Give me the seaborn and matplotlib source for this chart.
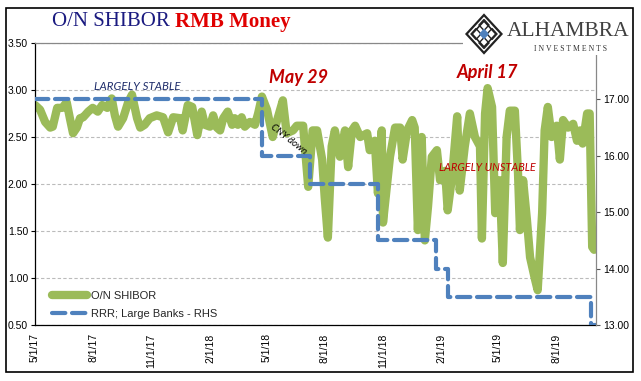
import pandas as pd
import matplotlib
matplotlib.use("Agg")
import matplotlib.pyplot as plt
from matplotlib.patches import Rectangle, Polygon
import seaborn as sns

# O/N SHIBOR (%)
shibor_dates = [
    "2017-05-01", "2017-05-09", "2017-05-17", "2017-05-25", "2017-05-29", "2017-06-05",
    "2017-06-13", "2017-06-20", "2017-06-25", "2017-06-30", "2017-07-06", "2017-07-11",
    "2017-07-16", "2017-07-24", "2017-07-31", "2017-08-08", "2017-08-15", "2017-08-23",
    "2017-08-30", "2017-09-04", "2017-09-09", "2017-09-17", "2017-09-25", "2017-10-01",
    "2017-10-09", "2017-10-14", "2017-10-21", "2017-10-29", "2017-11-09", "2017-11-19",
    "2017-11-27", "2017-12-05", "2017-12-16", "2017-12-20", "2017-12-28", "2018-01-04",
    "2018-01-12", "2018-01-19", "2018-01-24", "2018-02-01", "2018-02-06", "2018-02-12",
    "2018-02-17", "2018-02-22", "2018-03-01", "2018-03-08", "2018-03-12", "2018-03-17",
    "2018-03-23", "2018-03-28", "2018-04-05", "2018-04-13", "2018-04-18", "2018-04-24",
    "2018-05-02", "2018-05-11", "2018-05-18", "2018-05-27", "2018-06-02", "2018-06-12",
    "2018-06-18", "2018-06-28", "2018-07-06", "2018-07-13", "2018-07-20", "2018-07-28",
    "2018-08-01", "2018-08-06", "2018-08-12", "2018-08-17", "2018-08-25", "2018-09-02",
    "2018-09-07", "2018-09-13", "2018-09-18", "2018-09-26", "2018-10-07", "2018-10-11",
    "2018-10-19", "2018-10-24", "2018-10-30", "2018-11-01", "2018-11-07", "2018-11-12",
    "2018-11-20", "2018-11-28", "2018-12-02", "2018-12-09", "2018-12-17", "2018-12-21",
    "2018-12-26", "2019-01-01", "2019-01-06", "2019-01-11", "2019-01-17", "2019-01-25",
    "2019-01-30", "2019-02-02", "2019-02-07", "2019-02-11", "2019-02-18", "2019-02-26",
    "2019-03-02", "2019-03-10", "2019-03-18", "2019-03-26", "2019-04-03", "2019-04-06",
    "2019-04-11", "2019-04-15", "2019-04-22", "2019-04-27", "2019-05-04", "2019-05-09",
    "2019-05-15", "2019-05-20", "2019-05-28", "2019-06-02", "2019-06-05", "2019-06-10",
    "2019-06-16", "2019-06-21", "2019-06-29", "2019-07-03", "2019-07-10", "2019-07-14",
    "2019-07-19", "2019-07-25", "2019-08-02", "2019-08-07", "2019-08-12", "2019-08-20",
    "2019-08-28", "2019-09-03", "2019-09-08", "2019-09-12", "2019-09-19", "2019-09-23",
    "2019-09-27", "2019-09-30",
]
shibor_vals = [
    2.84, 2.79, 2.66, 2.60, 2.61, 2.81,
    2.81, 2.87, 2.70, 2.54, 2.60, 2.70,
    2.71, 2.77, 2.81, 2.77, 2.84, 2.81,
    2.91, 2.73, 2.61, 2.70, 2.87, 2.95,
    2.70, 2.60, 2.63, 2.70, 2.73, 2.71,
    2.55, 2.71, 2.70, 2.57, 2.84, 2.82,
    2.52, 2.77, 2.63, 2.61, 2.73, 2.60,
    2.57, 2.70, 2.77, 2.63, 2.70, 2.63,
    2.71, 2.61, 2.66, 2.63, 2.75, 2.93,
    2.79, 2.50, 2.68, 2.89, 2.54, 2.57,
    2.62, 2.62, 1.97, 2.57, 2.57, 2.26,
    1.86, 1.43, 2.40, 2.57, 2.29, 2.57,
    2.18, 2.57, 2.62, 2.50, 2.54, 2.36,
    2.46, 1.90, 2.57, 1.59, 1.97, 2.29,
    2.60, 2.60, 2.26, 2.57, 2.68, 2.60,
    1.51, 2.50, 1.40, 1.76, 2.29, 2.36,
    2.04, 2.10, 2.14, 1.72, 2.08, 2.72,
    1.93, 2.40, 2.75, 2.50, 2.40, 1.42,
    2.75, 3.02, 2.82, 1.69, 2.04, 1.16,
    2.50, 2.78, 2.78, 2.11, 1.51, 2.04,
    1.62, 1.22, 0.98, 0.87, 1.69, 2.57,
    2.82, 2.50, 2.62, 2.26, 2.68, 2.60,
    2.64, 2.46, 2.57, 2.43, 2.75, 2.75,
    1.33, 1.30,
]

# RRR for large banks (%), right-hand scale
rrr_dates = ["2017-05-01", "2018-04-24", "2018-07-09", "2018-10-24",
             "2019-01-23", "2019-02-11", "2019-09-25", "2019-10-03"]
rrr_vals = [17.0, 16.0, 15.5, 14.5, 14.0, 13.5, 13.0, 13.0]

left_ticks = [0.5, 1.0, 1.5, 2.0, 2.5, 3.0, 3.5]
right_ticks = [13, 14, 15, 16, 17]
x_ticks = ["2017-05-01", "2017-08-01", "2017-11-01", "2018-02-01", "2018-05-01",
           "2018-08-01", "2018-11-01", "2019-02-01", "2019-05-01", "2019-08-01"]

df_shibor = pd.DataFrame({"date": pd.to_datetime(shibor_dates), "rate": shibor_vals})
df_rrr = pd.DataFrame({"date": pd.to_datetime(rrr_dates), "rrr": rrr_vals})

sns.set_style("white")
plt.rcParams["font.family"] = ["Liberation Sans Narrow", "Liberation Sans", "DejaVu Sans"]

W, H = 641, 381
fig = plt.figure(figsize=(W / 100, H / 100), dpi=100)
fig.subplots_adjust(left=35 / W, right=596 / W, top=1 - 43 / H, bottom=1 - 325 / H)
ax = fig.add_subplot(111)
ax2 = ax.twinx()

green = "#9BBB59"
blue = "#4F81BD"

sns.lineplot(data=df_shibor, x="date", y="rate", ax=ax, color=green, linewidth=6,
             label="O/N SHIBOR", legend=False, solid_joinstyle="round", solid_capstyle="round")
sns.lineplot(data=df_rrr, x="date", y="rrr", ax=ax2, color=blue, linewidth=3,
             label="RRR; Large Banks - RHS", legend=False, drawstyle="steps-post")
rrr_line = ax2.lines[0]
rrr_line.set_linestyle((0, (3.2, 1.6)))
rrr_line.set_dash_capstyle("round")

ax.set_xlim(pd.Timestamp("2017-05-01"), pd.Timestamp("2019-10-03"))
ax.set_ylim(0.5, 3.5)
ax2.set_ylim(13, 18)
ax.set_yticks(left_ticks)
ax.set_yticklabels([f"{v:.2f}" for v in left_ticks])
ax2.set_yticks(right_ticks)
ax2.set_yticklabels([f"{v:.2f}" for v in right_ticks])
ax.set_xticks(pd.to_datetime(x_ticks))
ax.set_xticklabels([f"{d.month}/{d.day}/{d.strftime('%y')}" for d in pd.to_datetime(x_ticks)],
                   rotation=90, va="top")
ax.set_xlabel("")
ax.set_ylabel("")
ax2.set_ylabel("")

for a in (ax, ax2):
    a.tick_params(length=3, width=0.8, pad=2, labelsize=7.5, colors="black", direction="out")
ax.tick_params(axis="x", labelsize=7.5, pad=3)
ax2.tick_params(axis="y", colors="#555555", labelcolor="black")

ax.yaxis.grid(True, linestyle=(0, (3, 2)), color="#BBBBBB", linewidth=0.8)
ax.xaxis.grid(False)
ax.set_axisbelow(True)
ax.spines["left"].set_color("black")
ax.spines["bottom"].set_color("black")
ax.spines["top"].set_color("#888888")
for s in ("left", "bottom", "top", "right"):
    ax.spines[s].set_linewidth(0.9)
    ax2.spines[s].set_linewidth(0.9)
ax2.spines["right"].set_color("#888888")
ax2.spines["top"].set_visible(False)
ax2.spines["left"].set_visible(False)
ax2.spines["bottom"].set_visible(False)
ax.spines["right"].set_visible(False)

# annotations
note_font = ["Lato", "DejaVu Sans"]
ax.text(pd.Timestamp("2017-10-10"), 3.04, "LARGELY STABLE", color="#1F2D6B", style="italic",
        fontsize=8.3, ha="center", va="center", family=note_font)
ax.text(pd.Timestamp("2018-06-20"), 3.13, "May 29", color="#C00000", style="italic",
        weight="bold", fontsize=13, ha="center", va="center", family=note_font)
ax.text(pd.Timestamp("2019-04-15"), 3.19, "April 17", color="#C00000", style="italic",
        weight="bold", fontsize=13, ha="center", va="center", family=note_font)
ax2.text(pd.Timestamp("2019-04-15"), 15.8, "LARGELY UNSTABLE", color="#C00000", style="italic",
         fontsize=7.8, ha="center", va="center", family=note_font)
ax2.text(pd.Timestamp("2018-06-05"), 16.3, "CNY down", color="black", style="italic",
         fontsize=7, ha="center", va="center", rotation=-38, family=note_font)

handles = [ax.lines[0], rrr_line]
leg = ax2.legend(handles, ["O/N SHIBOR", "RRR; Large Banks - RHS"], loc="lower left",
                 bbox_to_anchor=(0.03, 0.02), frameon=False, fontsize=8,
                 handlelength=3.2, handletextpad=0.3, labelspacing=0.75,
                 borderpad=0, borderaxespad=0)

# title in two colours
serif = ["Liberation Serif", "DejaVu Serif"]
fig.canvas.draw()
t1 = fig.text(52 / W, 1 - 22 / H, "O/N SHIBOR ", color="#1A1A80", fontsize=15,
              family=serif, va="center", ha="left")
fig.canvas.draw()
bb = t1.get_window_extent(fig.canvas.get_renderer())
fig.text(bb.x1 / W, 1 - 22 / H, "RMB Money", color="#E00000", fontsize=15, weight="bold",
         family=serif, va="center", ha="left")

# logo block
fig.patches.append(Rectangle((463 / W, 1 - 55 / H), (632 - 463) / W, 46 / H,
                             transform=fig.transFigure, facecolor="white", edgecolor="none",
                             zorder=10))
cx, cy, hw, hh = 484, 34, 17.5, 19
def diamond(cx, cy, hw, hh, **kw):
    pts = [((cx) / W, 1 - (cy - hh) / H), ((cx + hw) / W, 1 - cy / H),
           ((cx) / W, 1 - (cy + hh) / H), ((cx - hw) / W, 1 - cy / H)]
    return Polygon(pts, closed=True, transform=fig.transFigure, zorder=11, **kw)
fig.patches.append(diamond(cx, cy, hw, hh, facecolor="white", edgecolor="#222222", linewidth=1.6))
fig.patches.append(diamond(cx, cy, hw * 0.68, hh * 0.68, facecolor="none", edgecolor="#222222", linewidth=1.2))
for dx, dy in [(-8, 0), (8, 0), (0, -9), (0, 9)]:
    fig.patches.append(diamond(cx + dx, cy + dy, 5, 5.5, facecolor="none", edgecolor="#222222", linewidth=1.0))
fig.patches.append(diamond(cx, cy, 5, 5.5, facecolor=blue, edgecolor="none"))
fig.text(507 / W, 1 - 32 / H, "ALHAMBRA", color="#404040", fontsize=15.5,
         family=serif, va="center", ha="left", zorder=12)
fig.text(570 / W, 1 - 49 / H, "I N V E S T M E N T S", color="#333333", fontsize=5.6,
         family=serif, va="center", ha="center", zorder=12)

# outer frame
fig.patches.append(Rectangle((6 / W, 1 - 372 / H), (633 - 6) / W, (372 - 8) / H,
                             transform=fig.transFigure, facecolor="none", edgecolor="black",
                             linewidth=1.2, zorder=12))

fig.savefig("out.png", dpi=100)
